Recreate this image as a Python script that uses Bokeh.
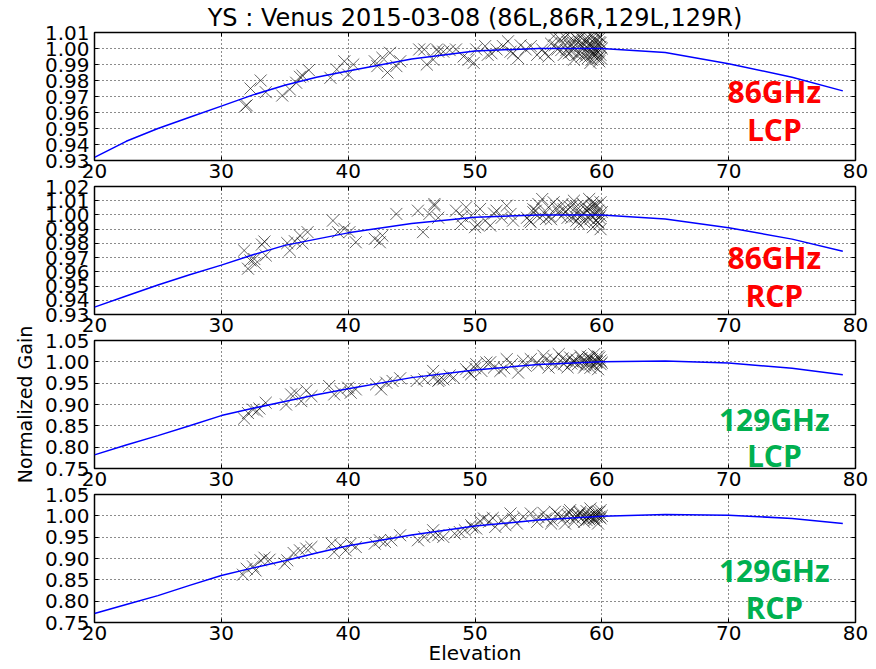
from bokeh.plotting import figure
from bokeh.layouts import column
from bokeh.models import Range1d, FixedTicker, NumeralTickFormatter, Label, LinearAxis
from bokeh.embed import file_html
from bokeh.resources import INLINE

TITLE = "YS : Venus 2015-03-08 (86L,86R,129L,129R)"
X_LABEL = "Elevation"
Y_LABEL = "Normalized Gain"
X_TICKS = [20, 30, 40, 50, 60, 70, 80]

# ---------------- Panel 1 : 86GHz LCP ----------------
p1_x = [31.9, 32.0, 32.3, 33.1, 33.5, 34.8, 35.4, 35.9, 36.2, 36.4, 36.9, 38.6, 39.1, 39.7, 40.0,
        40.4, 42.1, 42.3, 42.7, 43.1, 43.3, 43.8, 44.1, 45.6, 46.0, 46.2, 46.7, 47.1, 47.0, 47.5,
        48.5, 49.1, 49.5, 49.9, 50.1, 50.8, 51.3, 51.7, 52.2, 52.6, 53.0, 53.4, 54.0, 54.4, 54.9,
        55.3, 55.8, 56.2, 56.5, 56.9, 57.0, 57.3, 57.5, 57.8, 58.1, 58.2, 58.5, 58.6, 58.7, 58.9,
        59.0, 59.1, 59.3, 59.4, 59.5, 59.6, 59.8, 59.8, 59.9, 59.9, 57.6, 58.0, 58.8, 59.2, 59.7,
        59.9, 58.4, 59.5, 57.9, 58.9, 56.7, 57.2, 58.3, 59.6]
p1_y = [0.964, 0.9645, 0.975, 0.980, 0.9727, 0.9706, 0.9744, 0.9786, 0.9823, 0.983, 0.9865, 0.9817, 0.9869, 0.992, 0.9837,
        0.990, 0.992, 0.989, 0.9942, 0.985, 0.9973, 0.989, 0.992, 0.9994, 0.9994, 0.990, 0.993, 0.998, 0.9994, 0.998,
        0.9994, 0.995, 0.993, 0.991, 0.9994, 1.0015, 0.997, 0.9994, 1.0015, 1.0045, 0.997, 0.994, 0.9994, 1.0015, 0.996,
        0.9994, 0.995, 1.0077, 0.9994, 1.0035, 0.996, 1.0087, 1.0015, 0.993, 1.0056, 0.997, 1.0087, 1.0025, 0.9994, 0.994,
        1.0066, 0.991, 1.0015, 0.997, 1.0045, 1.0004, 1.0077, 0.992, 0.996, 1.0035, 0.998, 1.003, 1.005, 0.998, 0.994,
        1.001, 0.995, 1.009, 1.007, 1.000, 1.006, 0.999, 1.002, 0.997]
p1_x_more = [56.3, 56.8, 57.1, 57.4, 57.7, 58.0, 58.2, 58.5, 58.7, 59.0, 59.1, 59.3, 59.4, 59.6, 59.7, 59.8,
             59.9, 60.0, 56.0, 55.5, 57.8, 58.6, 59.2, 59.5, 59.9, 58.8, 57.3, 59.0, 52.8, 53.6, 51.0, 48.0]
p1_y_more = [1.002, 0.999, 1.007, 0.997, 1.004, 0.996, 1.008, 1.001, 0.995, 1.003, 1.009, 0.996, 1.006, 1.002, 0.998, 1.004,
             0.994, 1.000, 1.003, 0.997, 1.001, 1.005, 0.993, 0.999, 1.007, 0.997, 1.004, 1.002, 0.998, 1.002, 0.996, 0.999]
p1_cx = [20, 22.5, 25, 27.5, 30, 32.5, 35, 37.5, 40, 45, 50, 55, 60, 65, 70, 75, 79]
p1_cy = [0.932, 0.942, 0.950, 0.957, 0.964, 0.971, 0.977, 0.982, 0.986, 0.9935, 0.9985, 1.000, 1.000,
         0.9975, 0.9905, 0.982, 0.9735]
p1_yticks = [0.93, 0.94, 0.95, 0.96, 0.97, 0.98, 0.99, 1.00, 1.01]

# ---------------- Panel 2 : 86GHz RCP ----------------
p2_x = [31.8, 32.1, 32.3, 32.6, 32.7, 33.2, 33.4, 33.5, 35.2, 35.4, 35.8, 36.2, 36.4, 36.8, 38.8,
        39.2, 39.7, 40.1, 40.6, 42.1, 42.5, 42.7, 43.8, 45.5, 45.9, 46.4, 46.8, 47.1, 46.8, 48.5,
        48.9, 49.3, 49.7, 50.0, 50.4, 50.8, 51.2, 51.7, 52.1, 52.5, 52.8, 54.1, 54.4, 54.6, 55.0,
        55.3, 55.6, 55.8, 56.2, 56.6, 56.9, 57.3, 57.5, 57.8, 58.1, 58.2, 58.5, 58.7, 58.9, 59.0,
        59.1, 59.3, 59.4, 59.5, 59.7, 59.8, 59.9, 59.9, 59.9, 57.0, 58.3, 59.2, 59.6, 58.0, 57.7]
p2_y = [0.975, 0.9622, 0.968, 0.969, 0.9657, 0.9792, 0.9813, 0.9715, 0.9802, 0.975, 0.9815, 0.9855, 0.980, 0.9879, 0.996,
        0.9879, 0.9902, 0.9879, 0.9808, 0.9832, 0.9808, 0.9855, 1.0007, 1.003, 0.9879, 1.0007, 1.0065, 0.998, 1.0077, 1.003,
        0.9937, 1.0054, 0.9995, 0.9914, 1.0042, 0.996, 0.9925, 1.003, 0.998, 1.0065, 1.0007, 0.998, 0.9949, 1.0019, 1.0077,
        1.0112, 0.9972, 1.0054, 1.0089, 1.0019, 1.0077, 0.998, 1.0054, 1.010, 1.0019, 0.9937, 1.0077, 1.0042, 0.998, 1.0112,
        1.0007, 0.9914, 1.0065, 0.996, 1.003, 0.9937, 1.0089, 0.9995, 0.990, 1.004, 0.999, 1.006, 1.001, 0.996, 1.007]
p2_x_more = [54.3, 54.8, 55.1, 55.5, 56.0, 56.4, 56.8, 57.1, 57.6, 58.0, 58.4, 58.8, 59.1, 59.4, 59.6, 59.8,
             60.0, 59.0, 58.6, 57.9, 59.3, 59.7, 55.9, 54.6, 50.2, 51.5, 53.0, 49.0]
p2_y_more = [0.996, 1.003, 0.998, 1.001, 0.997, 1.005, 0.999, 1.002, 0.998, 1.006, 1.000, 1.003, 0.997, 1.001, 1.007, 0.998,
             1.002, 1.004, 0.995, 0.999, 1.009, 0.995, 0.999, 1.004, 0.993, 1.001, 0.996, 0.999]
p2_cx = [20, 22.5, 25, 27.5, 30, 32.5, 35, 37.5, 40, 45, 50, 55, 60, 65, 70, 75, 79]
p2_cy = [0.9352, 0.943, 0.9507, 0.958, 0.9647, 0.972, 0.9786, 0.983, 0.9874, 0.994, 0.9984, 1.000, 1.000,
         0.9972, 0.991, 0.983, 0.9745]
p2_yticks = [0.93, 0.94, 0.95, 0.96, 0.97, 0.98, 0.99, 1.00, 1.01, 1.02]

# ---------------- Panel 3 : 129GHz LCP ----------------
p3_x = [31.8, 32.1, 32.5, 32.8, 33.0, 33.5, 35.1, 35.5, 35.9, 36.3, 36.7, 37.1, 38.5, 38.9, 39.4,
        40.0, 40.2, 40.6, 42.2, 42.6, 43.0, 43.5, 44.1, 45.4, 46.0, 46.7, 47.1, 46.7, 47.5, 48.3,
        49.3, 49.7, 50.1, 50.5, 50.9, 51.5, 52.0, 52.5, 52.9, 53.4, 54.0, 54.4, 54.9, 55.4, 55.8,
        56.2, 56.6, 57.0, 57.5, 57.9, 58.3, 58.6, 58.9, 59.1, 59.4, 59.5, 59.7, 59.8, 59.9, 58.0,
        59.0, 59.6, 57.2, 58.7]
p3_y = [0.867, 0.880, 0.888, 0.884, 0.8906, 0.904, 0.900, 0.9236, 0.9276, 0.9079, 0.933, 0.9197, 0.9433, 0.9236, 0.9315,
        0.9394, 0.9276, 0.9354, 0.9472, 0.9354, 0.9512, 0.9551, 0.9614, 0.9551, 0.959, 0.9787, 0.9551, 0.963, 0.959, 0.963,
        0.9827, 0.9709, 0.9945, 0.9787, 0.9984, 0.9866, 0.9787, 1.0063, 0.9945, 0.9748, 0.9906, 1.0063, 0.9984, 1.0142, 0.9866,
        1.0063, 1.0181, 0.9945, 1.0102, 0.9984, 1.0142, 0.9866, 1.0063, 0.9945, 1.0181, 1.0024, 0.9827, 1.0102, 0.9945, 1.005,
        1.010, 0.999, 1.003, 0.992]
p3_x_more = [55.0, 55.6, 56.0, 56.4, 56.9, 57.3, 57.7, 58.1, 58.4, 58.8, 59.2, 59.4, 59.7, 59.9, 60.0, 59.1,
             58.5, 57.6, 59.6, 58.9, 53.8, 52.3, 51.2, 50.0, 49.5, 48.0, 47.2]
p3_y_more = [0.993, 1.005, 0.998, 0.991, 1.008, 0.987, 1.001, 0.994, 1.009, 0.999, 1.006, 0.990, 1.013, 1.003, 0.998, 0.986,
             1.002, 0.996, 1.001, 1.012, 1.002, 0.985, 0.999, 0.985, 0.976, 0.968, 0.958]
p3_cx = [20, 22.5, 25, 27.5, 30, 32.5, 35, 37.5, 40, 45, 50, 55, 60, 65, 70, 75, 79]
p3_cy = [0.782, 0.805, 0.827, 0.850, 0.874, 0.891, 0.907, 0.923, 0.937, 0.963, 0.981, 0.994, 1.000,
         1.002, 0.997, 0.985, 0.970]
p3_yticks = [0.75, 0.80, 0.85, 0.90, 0.95, 1.00, 1.05]

# ---------------- Panel 4 : 129GHz RCP ----------------
p4_x = [31.7, 32.0, 32.5, 32.7, 33.1, 33.4, 33.8, 35.0, 35.2, 35.7, 36.2, 36.7, 37.1, 38.7, 38.9,
        39.4, 39.8, 40.2, 40.6, 42.1, 42.5, 42.9, 43.4, 44.1, 45.5, 46.0, 46.7, 47.1, 46.7, 47.5,
        48.4, 49.2, 49.7, 50.1, 50.7, 51.1, 51.6, 52.1, 52.8, 53.3, 53.8, 54.4, 54.9, 55.6, 56.0,
        56.3, 56.7, 57.1, 57.5, 57.9, 58.3, 58.6, 58.9, 59.1, 59.3, 59.5, 59.7, 59.8, 59.9, 58.1,
        59.0, 59.6, 57.3, 58.8, 59.4]
p4_y = [0.862, 0.876, 0.8815, 0.872, 0.8956, 0.9019, 0.8972, 0.8878, 0.8956, 0.9129, 0.9191, 0.9231, 0.927, 0.9348, 0.9152,
        0.9309, 0.9191, 0.9348, 0.927, 0.9348, 0.9427, 0.9388, 0.9427, 0.9545, 0.9427, 0.9505, 0.9662, 0.9545, 0.9545, 0.9505,
        0.9584, 0.9662, 0.978, 0.9702, 0.9937, 0.9859, 0.9741, 0.9898, 1.0055, 0.982, 0.9976, 1.0055, 0.9859, 0.9937, 0.982,
        1.0094, 0.9976, 0.982, 1.0133, 0.9937, 1.0094, 0.9859, 1.0016, 1.0173, 0.9937, 1.0055, 0.982, 0.9976, 1.0133, 1.003,
        0.998, 1.008, 1.002, 0.990, 0.995]
p4_x_more = [55.0, 55.4, 56.1, 56.5, 57.0, 57.4, 57.8, 58.1, 58.5, 58.8, 59.0, 59.3, 59.6, 59.8, 60.0, 59.4,
             58.3, 57.7, 59.9, 58.9, 53.0, 52.4, 51.4, 50.4, 49.8, 48.8]
p4_y_more = [0.997, 1.007, 0.989, 1.004, 0.995, 1.009, 0.986, 1.001, 0.997, 1.011, 0.992, 1.004, 0.998, 1.009, 1.000, 0.990,
             1.006, 0.999, 0.994, 0.995, 0.993, 0.978, 0.995, 0.988, 0.973, 0.962]
p4_cx = [20, 22.5, 25, 27.5, 30, 32.5, 35, 37.5, 40, 45, 50, 55, 60, 65, 70, 75, 79]
p4_cy = [0.771, 0.792, 0.813, 0.837, 0.860, 0.878, 0.8945, 0.913, 0.930, 0.955, 0.976, 0.990, 0.999,
         1.003, 1.0015, 0.994, 0.982]
p4_yticks = [0.75, 0.80, 0.85, 0.90, 0.95, 1.00, 1.05]

labels = [("86GHz", "LCP"), ("86GHz", "RCP"), ("129GHz", "LCP"), ("129GHz", "RCP")]
label_colors = ["#ff0000", "#ff0000", "#00b050", "#00b050"]

panels = [
    dict(x=p1_x + p1_x_more, y=p1_y + p1_y_more, cx=p1_cx, cy=p1_cy, ticks=p1_yticks, yr=(0.93, 1.01),
         ly=(0.9733, 0.9492), top=32, bottom=30, margin=0),
    dict(x=p2_x + p2_x_more, y=p2_y + p2_y_more, cx=p2_cx, cy=p2_cy, ticks=p2_yticks, yr=(0.93, 1.02),
         ly=(0.9700, 0.9435), top=12, bottom=30, margin=-16),
    dict(x=p3_x + p3_x_more, y=p3_y + p3_y_more, cx=p3_cx, cy=p3_cy, ticks=p3_yticks, yr=(0.75, 1.05),
         ly=(0.866, 0.780), top=26, bottom=30, margin=-30),
    dict(x=p4_x + p4_x_more, y=p4_y + p4_y_more, cx=p4_cx, cy=p4_cy, ticks=p4_yticks, yr=(0.75, 1.05),
         ly=(0.873, 0.785), top=12, bottom=47, margin=-16),
]

FONT = "DejaVu Sans"
FRAME_H = 128
figs = []
for i, pan in enumerate(panels):
    h = pan["top"] + FRAME_H + pan["bottom"]
    p = figure(width=876, height=h, x_range=Range1d(20, 80), y_range=Range1d(*pan["yr"]),
               output_backend="svg", toolbar_location=None,
               min_border_left=94, min_border_right=21,
               min_border_top=pan["top"], min_border_bottom=pan["bottom"],
               border_fill_color=None, background_fill_color=None,
               outline_line_color="black", outline_line_width=1.5,
               margin=(pan["margin"], 0, 0, 0))
    xt = FixedTicker(ticks=X_TICKS)
    yt = FixedTicker(ticks=pan["ticks"])
    xa = p.below[0]
    ya = p.left[0]
    xa.ticker = xt
    ya.ticker = yt
    ya.formatter = NumeralTickFormatter(format="0.00")
    p.xgrid.ticker = xt
    p.ygrid.ticker = yt
    for ax, st in ((xa, 3), (ya, 5)):
        ax.major_label_text_font = FONT
        ax.major_label_text_font_size = "20px"
        ax.major_label_text_color = "black"
        ax.major_tick_in = 4
        ax.major_tick_out = 0
        ax.major_tick_line_color = "black"
        ax.minor_tick_line_color = None
        ax.axis_line_color = None
        ax.major_label_standoff = st
    # tick marks on top and right (no labels)
    for loc, tk in (("above", xt), ("right", yt)):
        ex = LinearAxis(ticker=tk, major_label_text_font_size="0px", major_label_text_color=None,
                        major_label_standoff=0, major_tick_in=4, major_tick_out=0,
                        minor_tick_line_color=None, axis_line_color=None, major_tick_line_color="black")
        p.add_layout(ex, loc)
    for g in (p.xgrid, p.ygrid):
        g.grid_line_color = "black"
        g.grid_line_dash = "1 3"
        g.grid_line_width = 1
        g.grid_line_alpha = 0.9

    p.scatter(pan["x"], pan["y"], marker="x", size=17, line_color="black", line_alpha=0.6, line_width=1)
    p.line(pan["cx"], pan["cy"], line_color="blue", line_width=1.5)

    for txt, yy in zip(labels[i], pan["ly"]):
        p.add_layout(Label(x=73.6, y=yy, text=txt, text_align="center", text_baseline="middle",
                           text_font="Open Sans", text_font_style="bold", text_font_size="30px",
                           text_color=label_colors[i]))

    if i == 0:
        p.title.text = TITLE
        p.title.align = "center"
        p.title.text_font = FONT
        p.title.text_font_size = "24px"
        p.title.text_font_style = "normal"
        p.title.text_color = "black"
        p.title.standoff = 2
    if i == 2:
        ya.axis_label = Y_LABEL
        ya.axis_label_text_font = FONT
        ya.axis_label_text_font_size = "19px"
        ya.axis_label_text_font_style = "normal"
        ya.axis_label_text_color = "black"
        ya.axis_label_standoff = 6
    if i == 3:
        xa.axis_label = X_LABEL
        xa.axis_label_text_font = FONT
        xa.axis_label_text_font_size = "20px"
        xa.axis_label_text_font_style = "normal"
        xa.axis_label_text_color = "black"
        xa.axis_label_standoff = -2
    figs.append(p)

layout = column(*figs, spacing=0)
open("out.html", "w").write(file_html(layout, INLINE))
